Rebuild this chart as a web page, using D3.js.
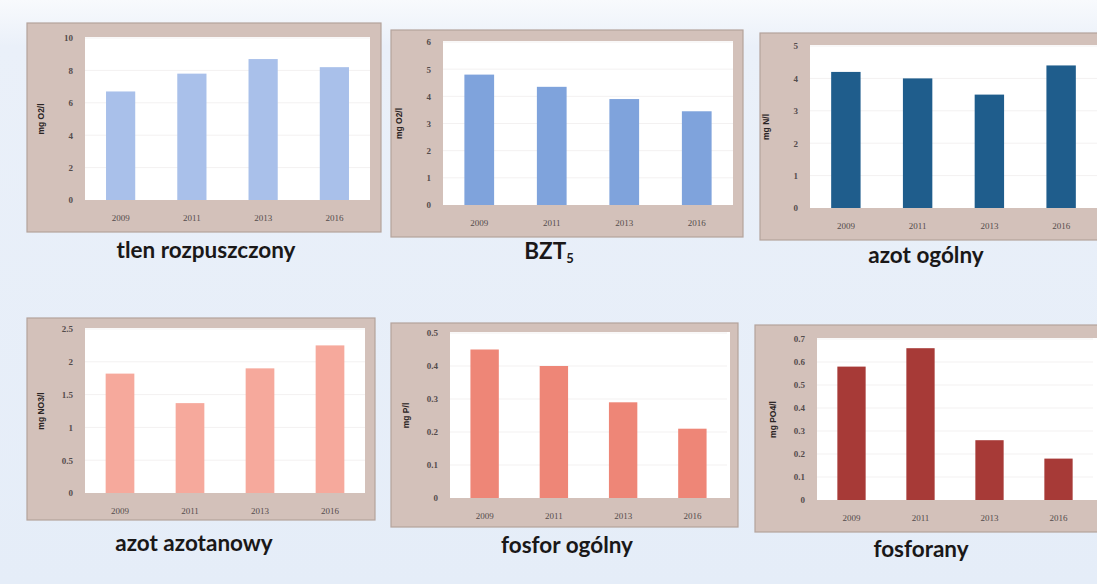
<!DOCTYPE html>
<html>
<head>
<meta charset="utf-8">
<script src="https://cdn.jsdelivr.net/npm/d3@7"></script>
<style>
html,body{margin:0;padding:0;background:#e7eef8;}
svg{display:block;}
</style>
</head>
<body>
<svg id="chart" width="1097" height="584"></svg>
<script>
// ---- data ----
const years = ["2009", "2011", "2013", "2016"];
const tlenRozpuszczony = [6.7, 7.8, 8.7, 8.2];
const bzt5 = [4.8, 4.35, 3.9, 3.45];
const azotOgolny = [4.2, 4.0, 3.5, 4.4];
const azotAzotanowy = [1.82, 1.37, 1.9, 2.25];
const fosforOgolny = [0.45, 0.4, 0.29, 0.21];
const fosforany = [0.58, 0.66, 0.26, 0.18];
const titles = ["tlen rozpuszczony", "BZT", "azot ogólny", "azot azotanowy", "fosfor ogólny", "fosforany"];
const titleSubs = ["", "5", "", "", "", ""];
const units = ["mg O2/l", "mg O2/l", "mg N/l", "mg NO3/l", "mg P/l", "mg PO4/l"];
const yMaxes = [10, 6, 5, 2.5, 0.5, 0.7];
const yTickSteps = [2, 1, 1, 0.5, 0.1, 0.1];

// ---- presentation ----
const series = [tlenRozpuszczony, bzt5, azotOgolny, azotAzotanowy, fosforOgolny, fosforany];
const colors = ["#a9c0ea", "#7fa3dc", "#1f5d8c", "#f6a99c", "#ee8677", "#a73a37"];
const layout = [
  {box:[27,23,381,232], plot:[85,38,370,200], white:370, title:[206,258]},
  {box:[391,30,743,237], plot:[443,42,733,205], white:733, title:[549,259]},
  {box:[760,33,1115,240], plot:[810,46,1097,208], white:1100, title:[926,263]},
  {box:[27,318,375,520], plot:[85,329,365,493], white:365, title:[194,551]},
  {box:[391,323,738,527], plot:[450,333,727,498], white:730, title:[567,553]},
  {box:[755,325,1115,532], plot:[817,339,1093,500], white:1100, title:[921,557]}
];

const svg = d3.select("#chart");
const defs = svg.append("defs");
const grad = defs.append("linearGradient").attr("id","bg").attr("x1",0).attr("y1",0).attr("x2",0).attr("y2",1);
grad.append("stop").attr("offset","0").attr("stop-color","#f8fafd");
grad.append("stop").attr("offset","0.08").attr("stop-color","#eaf0f9");
grad.append("stop").attr("offset","1").attr("stop-color","#e5edf8");
svg.append("rect").attr("width",1097).attr("height",584).attr("fill","url(#bg)");

const fmt = v => String(+v.toFixed(2));

series.forEach((vals, i) => {
  const L = layout[i];
  const g = svg.append("g");
  const [bx0,by0,bx1,by1] = L.box;
  const [px0,py0,px1,py1] = L.plot;

  g.append("rect").attr("x",bx0).attr("y",by0).attr("width",bx1-bx0).attr("height",by1-by0)
    .attr("fill","#d3c1ba").attr("stroke","#b4a39c").attr("stroke-width",1.2);
  g.append("rect").attr("x",px0).attr("y",py0-1).attr("width",L.white-px0).attr("height",py1-py0+1)
    .attr("fill","#ffffff");

  const x = d3.scaleBand().domain(years).range([px0,px1]).paddingInner(0.59).paddingOuter(0.295);
  const y = d3.scaleLinear().domain([0,yMaxes[i]]).range([py1,py0]);
  const ticks = d3.range(0, yMaxes[i] + yTickSteps[i]/2, yTickSteps[i]);

  // faint gridlines
  g.append("g").selectAll("line").data(ticks.slice(1)).join("line")
    .attr("x1",px0).attr("x2",px1).attr("y1",d=>y(d)).attr("y2",d=>y(d))
    .attr("stroke","#f3f1f1").attr("stroke-width",1);

  // y axis
  const ya = d3.axisLeft(y).tickValues(ticks).tickFormat(fmt).tickSize(0).tickPadding(12);
  const yg = g.append("g").attr("transform",`translate(${px0},0)`).call(ya);
  yg.select(".domain").remove();
  yg.selectAll("text").attr("font-family","Liberation Serif, serif").attr("font-size",9)
    .attr("font-weight","bold").attr("fill","#534c4c");

  // x axis
  const xa = d3.axisBottom(x).tickSize(0).tickPadding(15);
  const xg = g.append("g").attr("transform",`translate(0,${py1})`).call(xa);
  xg.select(".domain").remove();
  xg.selectAll("text").attr("font-family","Liberation Serif, serif").attr("font-size",9)
    .attr("fill","#534c4c");

  // bars
  g.append("g").selectAll("rect").data(vals).join("rect")
    .attr("x",(d,k)=>x(years[k])).attr("width",x.bandwidth())
    .attr("y",d=>y(d)).attr("height",d=>py1-y(d)).attr("fill",colors[i]);

  // axis title
  g.append("text").attr("transform",`translate(${px0-41},${(py0+py1)/2}) rotate(-90)`)
    .attr("text-anchor","middle").attr("font-family","Liberation Sans, sans-serif")
    .attr("font-size",8.5).attr("font-weight","bold").attr("fill","#2a2424").text(units[i]);

  // chart title
  const t = svg.append("text").attr("x",L.title[0]).attr("y",L.title[1]).attr("text-anchor","middle")
    .attr("font-family","Lato, sans-serif").attr("font-weight","bold").attr("font-size",22.5)
    .attr("fill","#1a1818");
  t.append("tspan").text(titles[i]);
  if (titleSubs[i]) t.append("tspan").attr("font-size",13).attr("dy",4).text(titleSubs[i]);
});
</script>
</body>
</html>
